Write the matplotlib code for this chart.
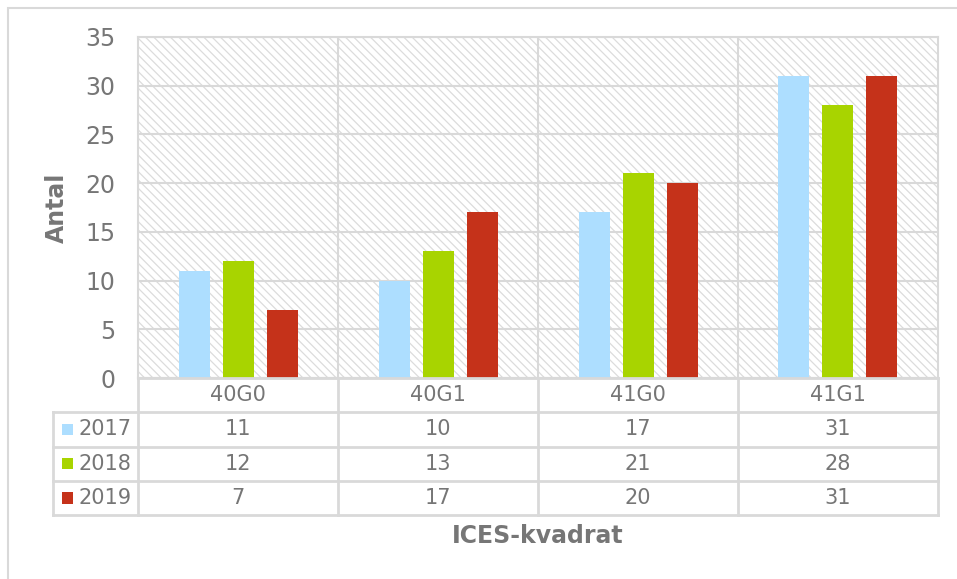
import numpy as np
import matplotlib
matplotlib.use("Agg")
import matplotlib.pyplot as plt
from matplotlib.patches import Rectangle

# data
categories = ["40G0", "40G1", "41G0", "41G1"]
years = ["2017", "2018", "2019"]
v2017 = [11, 10, 17, 31]
v2018 = [12, 13, 21, 28]
v2019 = [7, 17, 20, 31]
series = [v2017, v2018, v2019]
colors = ["#ADDEFF", "#A8D400", "#C5321A"]

grid_c = "#D9D9D9"
text_c = "#767676"
plt.rcParams["font.family"] = ["DejaVu Sans"]
plt.rcParams["hatch.linewidth"] = 0.9

W, H = 957, 579
fig = plt.figure(figsize=(W / 100, H / 100), dpi=100)

def fx(px):
    return px / W

def fy(py):
    return 1 - py / H

# outer chart border
fig.patches.append(Rectangle((fx(8), fy(600)), fx(960), fy(8) - fy(600),
                             transform=fig.transFigure, fill=False,
                             edgecolor=grid_c, lw=1.5))

# plot area
ax = fig.add_axes([fx(138), fy(378), fx(800), fy(37) - fy(378)])
ax.set_xlim(-0.5, 3.5)
ax.set_ylim(0, 35)
ax.add_patch(Rectangle((0, 0), 1, 1, transform=ax.transAxes, facecolor="white",
                       edgecolor="#DCDCDC", lw=0, hatch="\\\\\\\\", zorder=0))
x = np.arange(len(categories))
offsets = [-0.22, 0, 0.22]
for vals, off, c in zip(series, offsets, colors):
    ax.bar(x + off, vals, width=0.155, color=c, zorder=3)

ax.set_yticks(np.arange(0, 36, 5))
ax.set_xticks([])
ax.yaxis.grid(True, color=grid_c, lw=1.5, zorder=1)
for xv in [0.5, 1.5, 2.5]:
    ax.axvline(xv, color=grid_c, lw=1.5, zorder=1)
for s in ax.spines.values():
    s.set_color(grid_c)
    s.set_linewidth(1.5)
ax.tick_params(axis="y", length=0, pad=16.5, labelsize=17, labelcolor=text_c)
ax.set_facecolor("white")

# data table
tx0 = -0.5 - 85 / 200
tab = fig.add_axes([fx(53), fy(515), fx(938 - 53), fy(378) - fy(515)])
tab.set_xlim(tx0, 3.5)
tab.set_ylim(4, 0)
tab.axis("off")
lk = dict(color=grid_c, lw=2, clip_on=False)
tab.plot([-0.5, 3.5], [0, 0], **lk)
for r in [1, 2, 3, 4]:
    tab.plot([tx0, 3.5], [r, r], **lk)
tab.plot([tx0, tx0], [1, 4], **lk)
for xv in [-0.5, 0.5, 1.5, 2.5, 3.5]:
    tab.plot([xv, xv], [0, 4], **lk)

for i, cat in enumerate(categories):
    tab.text(i, 0.5, cat, ha="center", va="center", fontsize=15, color=text_c)
for r, (yr, vals, c) in enumerate(zip(years, series, colors)):
    row = r + 1.5
    tab.add_patch(Rectangle((tx0 + 0.045, row - 0.17), 0.055, 0.34,
                            facecolor=c, edgecolor="none", clip_on=False))
    tab.text(tx0 + 0.125, row, yr, ha="left", va="center", fontsize=15, color=text_c)
    for i, v in enumerate(vals):
        tab.text(i, row, str(v), ha="center", va="center", fontsize=15, color=text_c)

fig.text(fx(57), fy(208), "Antal", rotation=90, ha="center", va="center",
         fontsize=17, fontweight="bold", color=text_c)
fig.text(fx(538), fy(536), "ICES-kvadrat", ha="center", va="center",
         fontsize=17, fontweight="bold", color=text_c)

fig.savefig("out.png", dpi=100, facecolor="white")
